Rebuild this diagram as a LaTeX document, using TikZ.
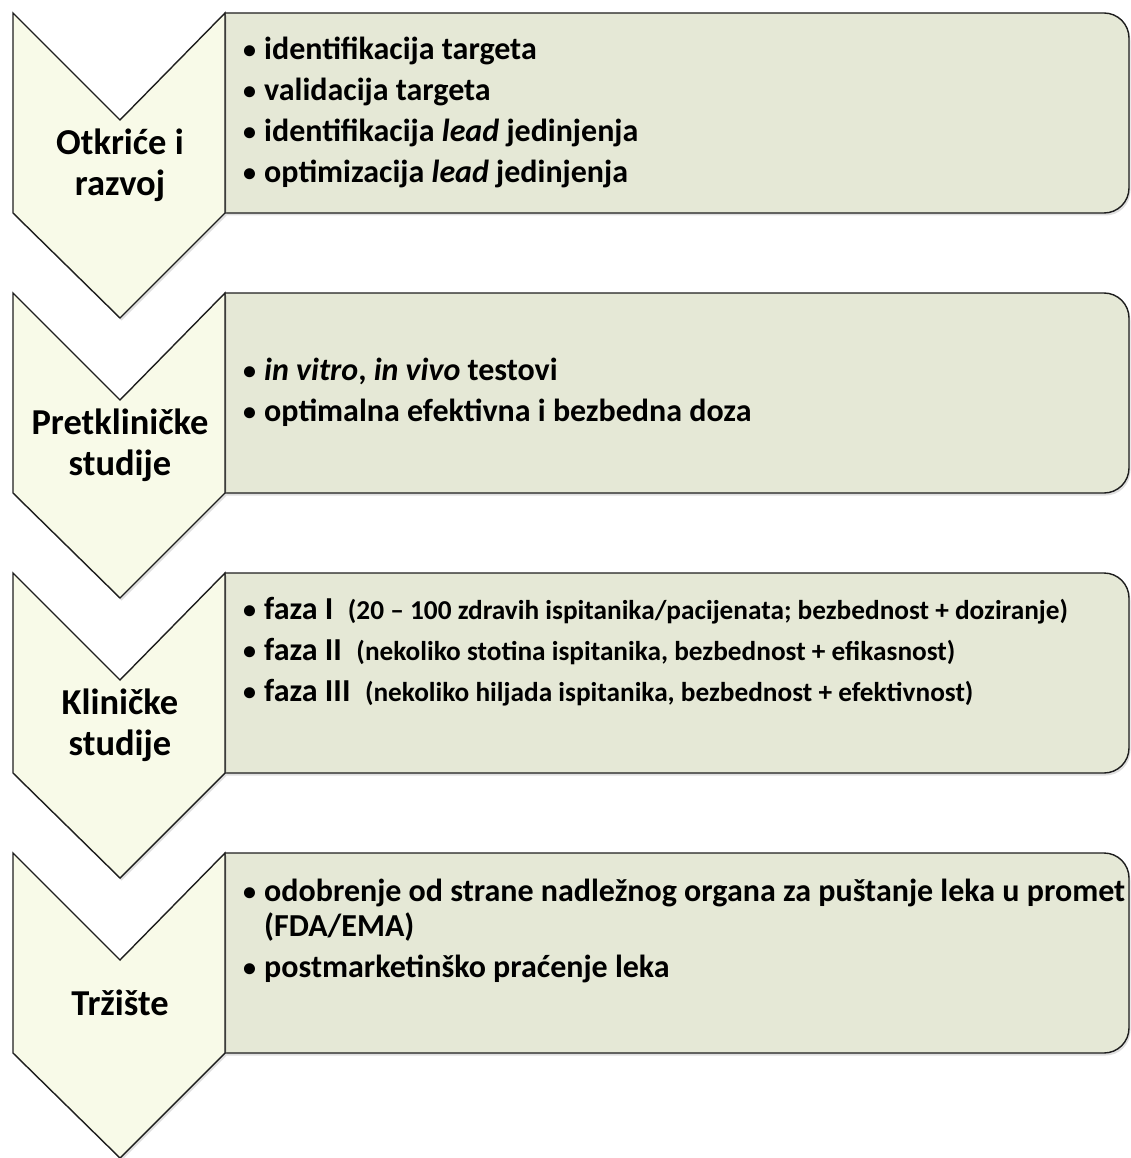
\documentclass[tikz,border=0pt]{standalone}
\usepackage{fontspec}
\setmainfont{Carlito}
\usetikzlibrary{shadows}
\definecolor{chevfill}{HTML}{F8FAE8}
\definecolor{boxfill}{HTML}{E5E8D6}
\definecolor{edge}{HTML}{1E1E1E}
\newcommand{\itm}{\makebox[21pt][l]{\fontsize{26}{26}\selectfont\raisebox{1pt}{•}}}
\newcommand{\subtxt}[1]{{\fontsize{27.3}{41}\selectfont#1}}

\begin{document}
\begin{tikzpicture}[
  x=1pt,y=-1pt,
  chev/.style={draw=edge,line width=1.4pt,fill=chevfill,line join=miter,
               drop shadow={shadow xshift=1.5pt,shadow yshift=-2.5pt,opacity=0.25}},
  box/.style={draw=edge,line width=1.4pt,fill=boxfill,
              drop shadow={shadow xshift=1.5pt,shadow yshift=-2.5pt,opacity=0.25}},
  stage/.style={font=\fontsize{36.5}{41}\selectfont\bfseries,align=center,inner sep=0pt},
  items/.style={font=\fontsize{32}{41}\selectfont\bfseries,align=left,anchor=west,inner sep=0pt},
]
\useasboundingbox (0,0) rectangle (1131,1158);
% boxes and chevrons
\foreach \t in {13,293,573,853}{
  \draw[box] (225,\t) [rounded corners=25pt] -- (1129,\t) -- (1129,\t+200)
    [sharp corners] -- (225,\t+200) -- cycle;
  \draw[chev] (13,\t) -- (120,\t+107) -- (225,\t) -- (225,\t+200)
    -- (120,\t+305) -- (13,\t+200) -- cycle;
}
% stage labels
\node[stage] (s1) at (120,165) {Otkriće i\\razvoj};
\node[stage] (s2) at (120,445) {Pretkliničke\\studije};
\node[stage] (s3) at (120,725) {Kliničke\\studije};
\node[stage] (s4) at (120,1003) {Tržište};
% box contents
\node[items] (i1) at (243,112) {%
  \itm identifikacija targeta\\
  \itm validacija targeta\\
  \itm identifikacija \textit{lead} jedinjenja\\
  \itm optimizacija \textit{lead} jedinjenja};
\node[items] (i2) at (243,392) {%
  \itm\textit{in vitro}, \textit{in vivo} testovi\\
  \itm optimalna efektivna i bezbedna doza};
\node[items] (i3) at (243,652) {%
  \itm faza I\ \ \subtxt{(20 – 100 zdravih ispitanika/pacijenata; bezbednost + doziranje)}\\
  \itm faza II\ \ \subtxt{(nekoliko stotina ispitanika, bezbednost + efikasnost)}\\
  \itm faza III\ \ \subtxt{(nekoliko hiljada ispitanika, bezbednost + efektivnost)}};
\node[items] (i4) at (243,931) {%
  \itm odobrenje od strane nadležnog organa za puštanje leka u promet\\[-6pt]
  \hspace*{21pt}(FDA/EMA)\\
  \itm postmarketinško praćenje leka};
\end{tikzpicture}
\end{document}
